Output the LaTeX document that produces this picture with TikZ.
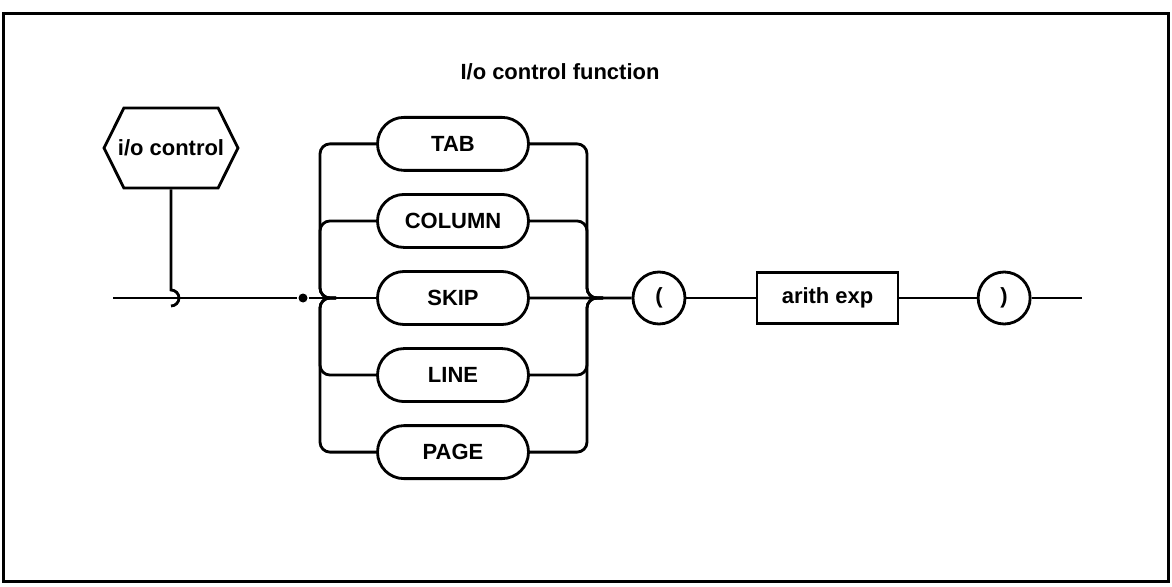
\documentclass[tikz,border=0pt]{standalone}
\usepackage{fontspec}
\setmainfont{Liberation Sans}
\usetikzlibrary{positioning,shapes.misc,shapes.symbols}

\begin{document}
\begin{tikzpicture}[
  x=0.2mm, y=-0.2mm,
  line width=1.6pt,
  every node/.style={font=\fontsize{12.5}{14}\selectfont\bfseries},
  pill/.style={draw, rounded rectangle, minimum width=30.2mm, minimum height=10.6mm, inner sep=0pt},
  paren/.style={draw, circle, minimum size=10.4mm, inner sep=0pt},
  plainbox/.style={draw, rectangle, minimum width=28.2mm, minimum height=10.2mm, inner sep=0pt},
  hexa/.style={draw, signal, signal to=west and east, signal pointer angle=127, minimum height=16mm, inner ysep=0pt, inner xsep=-1.2mm},
  track/.style={rounded corners=2mm},
  junction/.style={circle, fill, inner sep=0pt, minimum size=1.8mm}
]
\useasboundingbox (0,0) rectangle (1172,587);
\draw[line width=0.6mm] (3,14) rectangle (1168,581);

\node (title) at (560,72) {I/o control function};

% syntax item on the left
\node[hexa] (ioc) at (171,148) {i/o control};
\coordinate (hook) at (171,290);
\draw (ioc.south) -- (hook) arc[start angle=90, end angle=-90, radius=1.6mm];

% the five keywords
\node[pill] (skip) at (453,298) {SKIP};
\node[pill, above=4.25mm of skip] (column) {COLUMN};
\node[pill, above=4.25mm of column] (tab) {TAB};
\node[pill, below=4.25mm of skip] (line) {LINE};
\node[pill, below=4.25mm of line] (page) {PAGE};

\coordinate (in) at (113,298);
\node[junction] (dot) at (303,298) {};
\draw (in) -- (dot);
\draw (dot) -- (skip);

\coordinate (lk) at (320,298);
\coordinate (lj) at (336,298);
\coordinate (rk) at (587,298);
\coordinate (rj) at (603,298);
\foreach \n in {tab,column,line,page} {
  \draw[track] (\n.west) -| (lk) -- (lj);
  \draw[track] (\n.east) -| (rk) -- (rj);
}

% argument in brackets
\node[paren] (open) at (659,298) {(};
\node[plainbox, right=13.85mm of open] (arith) {arith exp};
\node[paren, right=15.45mm of arith] (close) {)};
\coordinate[right=10.1mm of close] (out);

\draw (skip) -- (open);
\draw (open) -- (arith);
\draw (arith) -- (close);
\draw (close) -- (out);

\end{tikzpicture}
\end{document}
